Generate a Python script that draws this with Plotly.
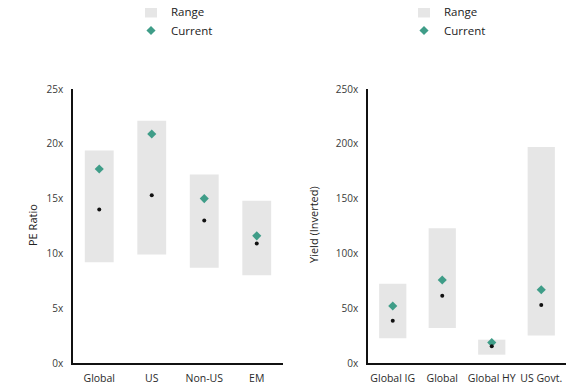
import plotly.graph_objects as go

# Equity valuations (PE ratio)
eq_cats = ["Global<br>Equity", "US<br>Equity", "Non-US<br>Dev.", "EM<br>Equity"]
eq_low = [9.2, 9.9, 8.7, 8.0]
eq_high = [19.4, 22.1, 17.2, 14.8]
eq_current = [17.7, 20.9, 15.0, 11.6]
eq_avg = [14.0, 15.3, 13.0, 10.9]

# Fixed income (yield inverted)
fi_cats = ["Global IG", "Global<br>Bonds", "Global HY", "US Govt.<br>10Y"]
fi_low = [22.5, 31.9, 7.6, 25.0]
fi_high = [72.4, 122.9, 21.3, 197.0]
fi_current = [52.0, 75.7, 18.6, 66.9]
fi_avg = [38.6, 61.4, 15.2, 52.9]

eq_ticks = [0, 5, 10, 15, 20, 25]
eq_ticktext = ["0x", "5x", "10x", "15x", "20x", "25x"]
fi_ticks = [0, 50, 100, 150, 200, 250]
fi_ticktext = ["0x", "50x", "100x", "150x", "200x", "250x"]

RANGE_C = "#e6e6e6"
CUR_C = "#3f9d88"
FONT = "Open Sans"
W, H, OFF = 588, 387, 8  # page body margin offset

fig = go.Figure()

def add_panel(cats, low, high, cur, avg, xa, ya, leg):
    fig.add_trace(go.Bar(x=cats, y=[h - l for h, l in zip(high, low)], base=low,
                         marker=dict(color=RANGE_C, line=dict(width=0)), width=0.55,
                         name="Range", xaxis=xa, yaxis=ya, legend=leg, hoverinfo="skip"))
    fig.add_trace(go.Scatter(x=cats, y=cur, mode="markers", name="Current",
                             marker=dict(symbol="diamond", color=CUR_C, size=7),
                             xaxis=xa, yaxis=ya, legend=leg))
    fig.add_trace(go.Scatter(x=cats, y=avg, mode="markers", name="Average", showlegend=False,
                             marker=dict(symbol="circle", color="#111111", size=4),
                             xaxis=xa, yaxis=ya))

add_panel(eq_cats, eq_low, eq_high, eq_current, eq_avg, "x", "y", "legend")
add_panel(fi_cats, fi_low, fi_high, fi_current, fi_avg, "x2", "y2", "legend2")

def px_x(v):
    return (v - OFF) / W

def px_y(v):
    return (H - (v - OFF)) / H

xfont = dict(family=FONT, size=10.5, color="#2a2a2a")
yfont = dict(family=FONT, size=10, color="#3a3a3a")
common_x = dict(showline=True, linecolor="#111111", linewidth=1.5, showgrid=False,
                ticks="", tickfont=xfont, automargin=False, zeroline=False,
                fixedrange=True, ticklabelstandoff=5)
common_y = dict(showline=True, linecolor="#111111", linewidth=1.5, showgrid=False,
                ticks="", tickfont=yfont, automargin=False, zeroline=False,
                fixedrange=True, ticklabelstandoff=6)

fig.update_layout(
    width=W, height=H,
    margin=dict(l=0, r=0, t=0, b=0, autoexpand=False),
    paper_bgcolor="white", plot_bgcolor="white",
    font=dict(family=FONT, color="#222222"),
    xaxis=dict(domain=[px_x(73), px_x(283)], anchor="y", **common_x),
    yaxis=dict(domain=[px_y(363), px_y(89)], anchor="x", range=[0, 25], tickvals=eq_ticks,
               ticktext=eq_ticktext, **common_y),
    xaxis2=dict(domain=[px_x(368), px_x(566)], anchor="y2", **common_x),
    yaxis2=dict(domain=[px_y(363), px_y(89)], anchor="x2", range=[0, 250], tickvals=fi_ticks,
                ticktext=fi_ticktext, **common_y),
    legend=dict(x=px_x(131), y=1 + 11 / H, xanchor="left", yanchor="top",
                font=dict(family=FONT, size=11.5, color="#222222"),
                bgcolor="rgba(0,0,0,0)", tracegroupgap=0),
    legend2=dict(x=px_x(404), y=1 + 11 / H, xanchor="left", yanchor="top",
                 font=dict(family=FONT, size=11.5, color="#222222"),
                 bgcolor="rgba(0,0,0,0)", tracegroupgap=0),
    showlegend=True,
    annotations=[
        dict(text="PE Ratio", x=px_x(33), y=px_y(225), xref="paper", yref="paper",
             xanchor="center", yanchor="middle",
             textangle=-90, showarrow=False, font=dict(family=FONT, size=11, color="#222222")),
        dict(text="Yield (Inverted)", x=px_x(314), y=px_y(225), xref="paper", yref="paper",
             xanchor="center", yanchor="middle",
             textangle=-90, showarrow=False, font=dict(family=FONT, size=11, color="#222222")),
    ],
)

fig.write_html("out.html")
